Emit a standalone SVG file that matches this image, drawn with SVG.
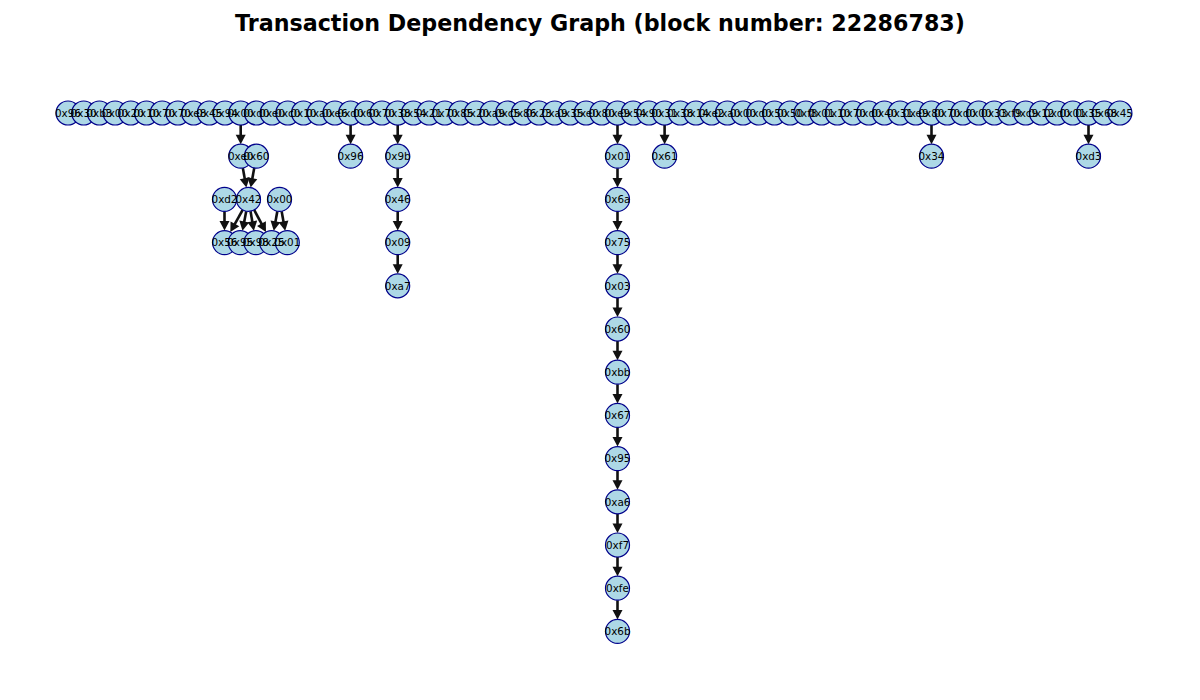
<svg xmlns="http://www.w3.org/2000/svg" width="1200" height="700" viewBox="0 0 1200 700">
  <defs>
    <style>
      .title { font-family: "DejaVu Sans", "Liberation Sans", sans-serif; font-size: 22.2px; font-weight: bold; fill: #000; }
      .node { fill: #add8e6; stroke: #00008b; stroke-width: 1.2; }
      .lbl { font-family: "DejaVu Sans", "Liberation Sans", sans-serif; font-size: 10.4px; fill: #000; text-anchor: middle; }
      .edge { stroke: #111; stroke-width: 2.6; fill: none; marker-end: url(#head); }
    </style>
    <marker id="head" markerUnits="userSpaceOnUse" markerWidth="14" markerHeight="14" refX="0" refY="0" orient="auto" overflow="visible">
      <path d="M-1.5,-5 L8,0 L-1.5,5 z" fill="#111" stroke="none"/>
    </marker>
    <circle id="dot" r="12"/>
  </defs>

  <rect width="1200" height="700" fill="#fff"/>
  <text class="title" x="600" y="31" text-anchor="middle">Transaction Dependency Graph (block number: 22286783)</text>

  <!-- dependency edges: drawn under the nodes -->
  <g id="edges">
    <!-- top row to second level -->
    <line class="edge" x1="240.7" y1="125" x2="240.7" y2="136.2"/>
    <line class="edge" x1="350.6" y1="125" x2="350.6" y2="136.2"/>
    <line class="edge" x1="397.7" y1="125" x2="397.7" y2="136.2"/>
    <line class="edge" x1="617.5" y1="125" x2="617.5" y2="136.2"/>
    <line class="edge" x1="664.6" y1="125" x2="664.6" y2="136.2"/>
    <line class="edge" x1="931.5" y1="125" x2="931.5" y2="136.2"/>
    <line class="edge" x1="1088.5" y1="125" x2="1088.5" y2="136.2"/>
    <!-- left cluster -->
    <line class="edge" x1="242.83" y1="168.01" x2="244.95" y2="179.72"/>
    <line class="edge" x1="254.24" y1="168.0" x2="252.1" y2="179.73"/>
    <line class="edge" x1="224.5" y1="211.4" x2="224.5" y2="222.6"/>
    <line class="edge" x1="242.67" y1="209.89" x2="234.21" y2="225.12"/>
    <line class="edge" x1="246.24" y1="211.18" x2="243.97" y2="222.96"/>
    <line class="edge" x1="250.53" y1="211.23" x2="252.52" y2="222.89"/>
    <line class="edge" x1="254.16" y1="209.98" x2="262.17" y2="224.97"/>
    <line class="edge" x1="277.34" y1="211.2" x2="275.2" y2="222.93"/>
    <line class="edge" x1="281.63" y1="211.21" x2="283.75" y2="222.92"/>
    <!-- 0x9b chain -->
    <line class="edge" x1="397.7" y1="168.2" x2="397.7" y2="179.4"/>
    <line class="edge" x1="397.7" y1="211.4" x2="397.7" y2="222.6"/>
    <line class="edge" x1="397.7" y1="254.6" x2="397.7" y2="265.8"/>
    <!-- long 0x01 chain -->
    <line class="edge" x1="617.5" y1="168.2" x2="617.5" y2="179.4"/>
    <line class="edge" x1="617.5" y1="211.4" x2="617.5" y2="222.6"/>
    <line class="edge" x1="617.5" y1="254.6" x2="617.5" y2="265.8"/>
    <line class="edge" x1="617.5" y1="297.8" x2="617.5" y2="309"/>
    <line class="edge" x1="617.5" y1="341" x2="617.5" y2="352.2"/>
    <line class="edge" x1="617.5" y1="384.2" x2="617.5" y2="395.4"/>
    <line class="edge" x1="617.5" y1="427.4" x2="617.5" y2="438.6"/>
    <line class="edge" x1="617.5" y1="470.6" x2="617.5" y2="481.8"/>
    <line class="edge" x1="617.5" y1="513.8" x2="617.5" y2="525"/>
    <line class="edge" x1="617.5" y1="557" x2="617.5" y2="568.2"/>
    <line class="edge" x1="617.5" y1="600.2" x2="617.5" y2="611.4"/>
  </g>

  <!-- node discs -->
  <g id="nodes">
    <g id="t00" class="node"><use href="#dot" x="68" y="113"/></g>
    <g id="t01" class="node"><use href="#dot" x="83.7" y="113"/></g>
    <g id="t02" class="node"><use href="#dot" x="99.4" y="113"/></g>
    <g id="t03" class="node"><use href="#dot" x="115.1" y="113"/></g>
    <g id="t04" class="node"><use href="#dot" x="130.8" y="113"/></g>
    <g id="t05" class="node"><use href="#dot" x="146.5" y="113"/></g>
    <g id="t06" class="node"><use href="#dot" x="162.2" y="113"/></g>
    <g id="t07" class="node"><use href="#dot" x="177.9" y="113"/></g>
    <g id="t08" class="node"><use href="#dot" x="193.6" y="113"/></g>
    <g id="t09" class="node"><use href="#dot" x="209.3" y="113"/></g>
    <g id="t10" class="node"><use href="#dot" x="225" y="113"/></g>
    <g id="t11" class="node"><use href="#dot" x="240.7" y="113"/></g>
    <g id="t12" class="node"><use href="#dot" x="256.4" y="113"/></g>
    <g id="t13" class="node"><use href="#dot" x="272.1" y="113"/></g>
    <g id="t14" class="node"><use href="#dot" x="287.8" y="113"/></g>
    <g id="t15" class="node"><use href="#dot" x="303.5" y="113"/></g>
    <g id="t16" class="node"><use href="#dot" x="319.2" y="113"/></g>
    <g id="t17" class="node"><use href="#dot" x="334.9" y="113"/></g>
    <g id="t18" class="node"><use href="#dot" x="350.6" y="113"/></g>
    <g id="t19" class="node"><use href="#dot" x="366.3" y="113"/></g>
    <g id="t20" class="node"><use href="#dot" x="382" y="113"/></g>
    <g id="t21" class="node"><use href="#dot" x="397.7" y="113"/></g>
    <g id="t22" class="node"><use href="#dot" x="413.4" y="113"/></g>
    <g id="t23" class="node"><use href="#dot" x="429.1" y="113"/></g>
    <g id="t24" class="node"><use href="#dot" x="444.8" y="113"/></g>
    <g id="t25" class="node"><use href="#dot" x="460.5" y="113"/></g>
    <g id="t26" class="node"><use href="#dot" x="476.2" y="113"/></g>
    <g id="t27" class="node"><use href="#dot" x="491.9" y="113"/></g>
    <g id="t28" class="node"><use href="#dot" x="507.6" y="113"/></g>
    <g id="t29" class="node"><use href="#dot" x="523.3" y="113"/></g>
    <g id="t30" class="node"><use href="#dot" x="539" y="113"/></g>
    <g id="t31" class="node"><use href="#dot" x="554.7" y="113"/></g>
    <g id="t32" class="node"><use href="#dot" x="570.4" y="113"/></g>
    <g id="t33" class="node"><use href="#dot" x="586.1" y="113"/></g>
    <g id="t34" class="node"><use href="#dot" x="601.8" y="113"/></g>
    <g id="t35" class="node"><use href="#dot" x="617.5" y="113"/></g>
    <g id="t36" class="node"><use href="#dot" x="633.2" y="113"/></g>
    <g id="t37" class="node"><use href="#dot" x="648.9" y="113"/></g>
    <g id="t38" class="node"><use href="#dot" x="664.6" y="113"/></g>
    <g id="t39" class="node"><use href="#dot" x="680.3" y="113"/></g>
    <g id="t40" class="node"><use href="#dot" x="696" y="113"/></g>
    <g id="t41" class="node"><use href="#dot" x="711.7" y="113"/></g>
    <g id="t42" class="node"><use href="#dot" x="727.4" y="113"/></g>
    <g id="t43" class="node"><use href="#dot" x="743.1" y="113"/></g>
    <g id="t44" class="node"><use href="#dot" x="758.8" y="113"/></g>
    <g id="t45" class="node"><use href="#dot" x="774.5" y="113"/></g>
    <g id="t46" class="node"><use href="#dot" x="790.2" y="113"/></g>
    <g id="t47" class="node"><use href="#dot" x="805.9" y="113"/></g>
    <g id="t48" class="node"><use href="#dot" x="821.6" y="113"/></g>
    <g id="t49" class="node"><use href="#dot" x="837.3" y="113"/></g>
    <g id="t50" class="node"><use href="#dot" x="853" y="113"/></g>
    <g id="t51" class="node"><use href="#dot" x="868.7" y="113"/></g>
    <g id="t52" class="node"><use href="#dot" x="884.4" y="113"/></g>
    <g id="t53" class="node"><use href="#dot" x="900.1" y="113"/></g>
    <g id="t54" class="node"><use href="#dot" x="915.8" y="113"/></g>
    <g id="t55" class="node"><use href="#dot" x="931.5" y="113"/></g>
    <g id="t56" class="node"><use href="#dot" x="947.2" y="113"/></g>
    <g id="t57" class="node"><use href="#dot" x="962.9" y="113"/></g>
    <g id="t58" class="node"><use href="#dot" x="978.6" y="113"/></g>
    <g id="t59" class="node"><use href="#dot" x="994.3" y="113"/></g>
    <g id="t60" class="node"><use href="#dot" x="1010" y="113"/></g>
    <g id="t61" class="node"><use href="#dot" x="1025.7" y="113"/></g>
    <g id="t62" class="node"><use href="#dot" x="1041.4" y="113"/></g>
    <g id="t63" class="node"><use href="#dot" x="1057.1" y="113"/></g>
    <g id="t64" class="node"><use href="#dot" x="1072.8" y="113"/></g>
    <g id="t65" class="node"><use href="#dot" x="1088.5" y="113"/></g>
    <g id="t66" class="node"><use href="#dot" x="1104.2" y="113"/></g>
    <g id="t67" class="node"><use href="#dot" x="1119.9" y="113"/></g>

    <!-- second level -->
    <g id="a-e0" class="node"><use href="#dot" x="240.7" y="156.2"/></g>
    <g id="a-60" class="node"><use href="#dot" x="256.4" y="156.2"/></g>
    <g id="a-96" class="node"><use href="#dot" x="350.6" y="156.2"/></g>
    <g id="a-9b" class="node"><use href="#dot" x="397.7" y="156.2"/></g>
    <g id="a-01" class="node"><use href="#dot" x="617.5" y="156.2"/></g>
    <g id="a-61" class="node"><use href="#dot" x="664.6" y="156.2"/></g>
    <g id="a-34" class="node"><use href="#dot" x="931.5" y="156.2"/></g>
    <g id="a-d3" class="node"><use href="#dot" x="1088.5" y="156.2"/></g>

    <!-- left cluster -->
    <g id="b-d2" class="node"><use href="#dot" x="224.5" y="199.4"/></g>
    <g id="b-42" class="node"><use href="#dot" x="248.5" y="199.4"/></g>
    <g id="b-00" class="node"><use href="#dot" x="279.5" y="199.4"/></g>
    <g id="c-56" class="node"><use href="#dot" x="224.5" y="242.6"/></g>
    <g id="c-95" class="node"><use href="#dot" x="240.2" y="242.6"/></g>
    <g id="c-98" class="node"><use href="#dot" x="255.9" y="242.6"/></g>
    <g id="c-25" class="node"><use href="#dot" x="271.6" y="242.6"/></g>
    <g id="c-01" class="node"><use href="#dot" x="287.3" y="242.6"/></g>

    <!-- 0x9b chain -->
    <g id="b-46" class="node"><use href="#dot" x="397.7" y="199.4"/></g>
    <g id="c-09" class="node"><use href="#dot" x="397.7" y="242.6"/></g>
    <g id="d-a7" class="node"><use href="#dot" x="397.7" y="285.8"/></g>

    <!-- 0x01 chain -->
    <g id="k02-6a" class="node"><use href="#dot" x="617.5" y="199.4"/></g>
    <g id="k03-75" class="node"><use href="#dot" x="617.5" y="242.6"/></g>
    <g id="k04-03" class="node"><use href="#dot" x="617.5" y="285.8"/></g>
    <g id="k05-60" class="node"><use href="#dot" x="617.5" y="329"/></g>
    <g id="k06-bb" class="node"><use href="#dot" x="617.5" y="372.2"/></g>
    <g id="k07-67" class="node"><use href="#dot" x="617.5" y="415.4"/></g>
    <g id="k08-95" class="node"><use href="#dot" x="617.5" y="458.6"/></g>
    <g id="k09-a6" class="node"><use href="#dot" x="617.5" y="501.8"/></g>
    <g id="k10-f7" class="node"><use href="#dot" x="617.5" y="545"/></g>
    <g id="k11-fe" class="node"><use href="#dot" x="617.5" y="588.2"/></g>
    <g id="k12-6b" class="node"><use href="#dot" x="617.5" y="631.4"/></g>
  </g>

  <!-- node labels, painted above all discs -->
  <g id="labels" class="lbl">
    <text x="68" y="116.7">0x96</text>
    <text x="83.7" y="116.7">0x30</text>
    <text x="99.4" y="116.7">0xb3</text>
    <text x="115.1" y="116.7">0x00</text>
    <text x="130.8" y="116.7">0x20</text>
    <text x="146.5" y="116.7">0x10</text>
    <text x="162.2" y="116.7">0x70</text>
    <text x="177.9" y="116.7">0x70</text>
    <text x="193.6" y="116.7">0xe8</text>
    <text x="209.3" y="116.7">0x45</text>
    <text x="225" y="116.7">0x94</text>
    <text x="240.7" y="116.7">0x00</text>
    <text x="256.4" y="116.7">0xd0</text>
    <text x="272.1" y="116.7">0xe0</text>
    <text x="287.8" y="116.7">0xc0</text>
    <text x="303.5" y="116.7">0x10</text>
    <text x="319.2" y="116.7">0xa0</text>
    <text x="334.9" y="116.7">0xe6</text>
    <text x="350.6" y="116.7">0xd0</text>
    <text x="366.3" y="116.7">0x60</text>
    <text x="382" y="116.7">0x70</text>
    <text x="397.7" y="116.7">0x38</text>
    <text x="413.4" y="116.7">0x54</text>
    <text x="429.1" y="116.7">0x21</text>
    <text x="444.8" y="116.7">0x70</text>
    <text x="460.5" y="116.7">0x85</text>
    <text x="476.2" y="116.7">0x20</text>
    <text x="491.9" y="116.7">0xa9</text>
    <text x="507.6" y="116.7">0xc5</text>
    <text x="523.3" y="116.7">0x86</text>
    <text x="539" y="116.7">0x23</text>
    <text x="554.7" y="116.7">0xa9</text>
    <text x="570.4" y="116.7">0x35</text>
    <text x="586.1" y="116.7">0xe0</text>
    <text x="601.8" y="116.7">0x80</text>
    <text x="617.5" y="116.7">0xe9</text>
    <text x="633.2" y="116.7">0x54</text>
    <text x="648.9" y="116.7">0x90</text>
    <text x="664.6" y="116.7">0x31</text>
    <text x="680.3" y="116.7">0x38</text>
    <text x="696" y="116.7">0x14</text>
    <text x="711.7" y="116.7">0xe2</text>
    <text x="727.4" y="116.7">0xa0</text>
    <text x="743.1" y="116.7">0x00</text>
    <text x="758.8" y="116.7">0xd0</text>
    <text x="774.5" y="116.7">0x50</text>
    <text x="790.2" y="116.7">0x50</text>
    <text x="805.9" y="116.7">0xf8</text>
    <text x="821.6" y="116.7">0x01</text>
    <text x="837.3" y="116.7">0x10</text>
    <text x="853" y="116.7">0x70</text>
    <text x="868.7" y="116.7">0xd0</text>
    <text x="884.4" y="116.7">0x40</text>
    <text x="900.1" y="116.7">0x31</text>
    <text x="915.8" y="116.7">0xe9</text>
    <text x="931.5" y="116.7">0x80</text>
    <text x="947.2" y="116.7">0x70</text>
    <text x="962.9" y="116.7">0xd0</text>
    <text x="978.6" y="116.7">0x00</text>
    <text x="994.3" y="116.7">0x33</text>
    <text x="1010" y="116.7">0xf9</text>
    <text x="1025.7" y="116.7">0xc9</text>
    <text x="1041.4" y="116.7">0x12</text>
    <text x="1057.1" y="116.7">0xd0</text>
    <text x="1072.8" y="116.7">0x01</text>
    <text x="1088.5" y="116.7">0x35</text>
    <text x="1104.2" y="116.7">0x68</text>
    <text x="1119.9" y="116.7">0x45</text>

    <text x="240.7" y="159.9">0xe0</text>
    <text x="256.4" y="159.9">0x60</text>
    <text x="350.6" y="159.9">0x96</text>
    <text x="397.7" y="159.9">0x9b</text>
    <text x="617.5" y="159.9">0x01</text>
    <text x="664.6" y="159.9">0x61</text>
    <text x="931.5" y="159.9">0x34</text>
    <text x="1088.5" y="159.9">0xd3</text>

    <text x="224.5" y="203.1">0xd2</text>
    <text x="248.5" y="203.1">0x42</text>
    <text x="279.5" y="203.1">0x00</text>
    <text x="224.5" y="246.3">0x56</text>
    <text x="240.2" y="246.3">0x95</text>
    <text x="255.9" y="246.3">0x98</text>
    <text x="271.6" y="246.3">0x25</text>
    <text x="287.3" y="246.3">0x01</text>

    <text x="397.7" y="203.1">0x46</text>
    <text x="397.7" y="246.3">0x09</text>
    <text x="397.7" y="289.5">0xa7</text>

    <text x="617.5" y="203.1">0x6a</text>
    <text x="617.5" y="246.3">0x75</text>
    <text x="617.5" y="289.5">0x03</text>
    <text x="617.5" y="332.7">0x60</text>
    <text x="617.5" y="375.9">0xbb</text>
    <text x="617.5" y="419.1">0x67</text>
    <text x="617.5" y="462.3">0x95</text>
    <text x="617.5" y="505.5">0xa6</text>
    <text x="617.5" y="548.7">0xf7</text>
    <text x="617.5" y="591.9">0xfe</text>
    <text x="617.5" y="635.1">0x6b</text>
  </g>
</svg>
